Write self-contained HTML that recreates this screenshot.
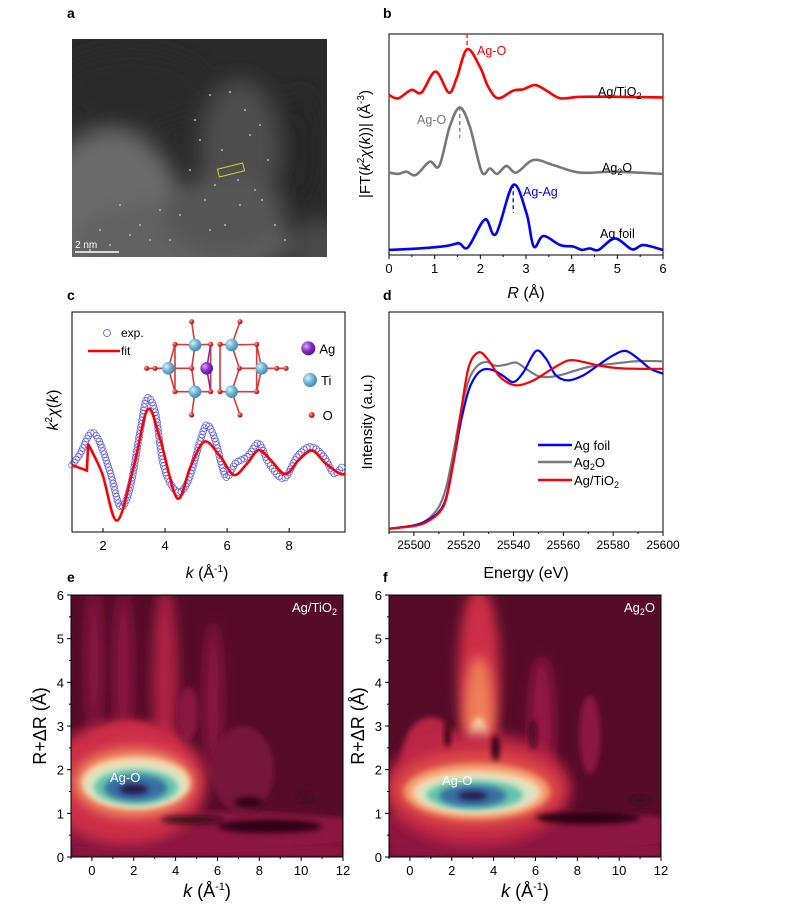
<!DOCTYPE html>
<html><head><meta charset="utf-8"><style>
html,body{margin:0;padding:0;background:#fff;}
svg{display:block;font-family:"Liberation Sans",Arial,sans-serif;}
</style></head><body>
<svg id="fig" width="800" height="920" viewBox="0 0 800 920">
<defs>
<filter id="blur6" x="-50%" y="-50%" width="200%" height="200%"><feGaussianBlur stdDeviation="6"/></filter>
<filter id="blur3" x="-50%" y="-50%" width="200%" height="200%"><feGaussianBlur stdDeviation="3"/></filter>
<filter id="blur10" x="-50%" y="-50%" width="200%" height="200%"><feGaussianBlur stdDeviation="10"/></filter>
<clipPath id="clipA"><rect x="72" y="39" width="255" height="218"/></clipPath>
<clipPath id="clipE"><rect x="71" y="595" width="272" height="262"/></clipPath>
<clipPath id="clipF"><rect x="389" y="595" width="272" height="262"/></clipPath>
<radialGradient id="ballTi" cx="35%" cy="35%" r="70%"><stop offset="0" stop-color="#d8f0fb"/><stop offset="0.5" stop-color="#6fb6d8"/><stop offset="1" stop-color="#3d86ad"/></radialGradient>
<radialGradient id="ballAg" cx="35%" cy="35%" r="70%"><stop offset="0" stop-color="#d9a8f5"/><stop offset="0.5" stop-color="#8a2fd0"/><stop offset="1" stop-color="#4f138a"/></radialGradient>
<radialGradient id="ballO" cx="35%" cy="35%" r="70%"><stop offset="0" stop-color="#ffb0a0"/><stop offset="0.5" stop-color="#e3322a"/><stop offset="1" stop-color="#a11310"/></radialGradient>
</defs>

<g font-weight="bold" font-size="14" fill="#000">
<text x="67" y="18">a</text>
<text x="383" y="18">b</text>
<text x="67" y="300">c</text>
<text x="383" y="300">d</text>
<text x="67" y="582">e</text>
<text x="383" y="582">f</text>
</g>

<g id="panelA" clip-path="url(#clipA)">
<rect x="72" y="39" width="255" height="218" fill="#2b2b2b"/>
<g filter="url(#blur10)">
<ellipse cx="110" cy="210" rx="70" ry="80" fill="#6a6a6a"/>
<ellipse cx="180" cy="240" rx="110" ry="40" fill="#626262"/>
<ellipse cx="240" cy="150" rx="40" ry="70" fill="#4e4e4e"/>
<ellipse cx="225" cy="215" rx="60" ry="40" fill="#555"/>
<ellipse cx="320" cy="250" rx="30" ry="30" fill="#4a4a4a"/>
<ellipse cx="130" cy="90" rx="80" ry="40" fill="#2a2a2a"/>
<ellipse cx="300" cy="150" rx="20" ry="60" fill="#262626"/>
</g>
<g id="dotsA" fill="#bbb"></g>
<rect x="218" y="166" width="26" height="8" fill="none" stroke="#d8d020" stroke-width="1" transform="rotate(-14 231 170)"/>
<text x="75" y="248" fill="#fff" font-size="10">2 nm</text>
<line x1="75" y1="252" x2="119" y2="252" stroke="#fff" stroke-width="1.5"/>
</g>

<g id="panelB"></g>
<g id="panelC"></g>
<g id="panelD"></g>
<g id="panelE"></g>
<g id="panelF"></g>
</svg>
<script>
// ---------- Panel b data ----------
const bR_red=[0,0.2,0.49,0.71,1.02,1.31,1.48,1.71,1.99,2.17,2.39,2.72,2.94,3.2,3.45,3.75,4.18,4.92,6];
const bY_red=[7.24,7.09,7.47,7.35,8.30,7.35,7.99,9.31,8.52,7.62,7.09,7.44,7.50,7.69,7.44,7.09,7.16,7.16,7.13];
const bR_gray=[0,0.2,0.38,0.59,0.89,1.1,1.33,1.55,1.77,2.03,2.21,2.37,2.57,2.79,3.16,3.6,4.18,4.92,6];
const bY_gray=[3.73,3.67,3.77,3.62,4.22,4.03,5.81,6.68,5.81,3.77,3.92,3.67,4.03,3.73,4.30,4.07,3.73,3.77,3.67];
const bR_blue=[0,0.67,1.26,1.53,1.73,2.1,2.34,2.72,3.01,3.17,3.38,3.75,4.04,4.22,4.4,4.59,4.95,5.32,5.57,6];
const bY_blue=[0.23,0.30,0.41,0.53,0.35,1.61,0.95,3.17,1.89,0.38,0.86,0.45,0.38,0.23,0.30,0.23,0.75,0.26,0.45,0.23];
const bTicks=[0,1,2,3,4,5,6];
// ---------- Panel c data ----------
const cK_fit=[1,1.48,1.52,1.97,2.45,2.99,3.44,3.85,4.39,4.82,5.27,5.78,6.22,6.65,7.02,7.4,7.88,8.31,8.74,9.17,9.66,9.82];
const cY_fit=[-2.35,-2.65,-1.2,-2.8,-5.38,-2.44,0.69,-0.98,-4.16,-2.44,-1.07,-1.89,-2.89,-2.25,-1.53,-2.07,-2.84,-2.07,-1.56,-2.25,-2.84,-2.76];
const cK_exp=[1,1.27,1.59,1.86,2.24,2.56,2.88,3.2,3.42,3.69,3.96,4.39,4.76,5.14,5.35,5.62,5.95,6.27,6.65,7.02,7.34,7.83,8.26,8.69,9.12,9.44,9.71];
const cY_exp=[-2.35,-1.71,-0.62,-0.98,-2.8,-4.62,-3.53,-0.44,1.29,0.47,-2.44,-3.8,-3.16,-0.98,-0.16,-0.98,-2.98,-2.25,-1.89,-1.16,-2.25,-3.07,-1.89,-1.35,-1.89,-2.8,-2.44];
const cTicks=[2,4,6,8];
// ---------- Panel d data ----------
const dE_blue=[25490,25500,25505,25510,25513,25516,25519,25522,25525,25528,25532,25536,25540,25544,25549,25553,25557,25562,25568,25574,25580,25585,25590,25595,25600];
const dY_blue=[0.15,0.3,0.5,0.91,1.59,3.26,5.08,6.44,7.12,7.39,7.35,7.08,6.82,7.27,8.23,7.88,7.12,6.89,7.12,7.58,8.03,8.23,7.88,7.42,7.2];
const dE_gray=[25490,25500,25505,25510,25513,25516,25519,25522,25525,25529,25533,25537,25541,25545,25550,25555,25560,25570,25580,25590,25600];
const dY_gray=[0.15,0.3,0.53,1.14,2.05,3.71,5.53,6.89,7.5,7.73,7.55,7.61,7.7,7.42,7.08,7.05,7.17,7.5,7.65,7.77,7.76];
const dE_red=[25490,25500,25505,25510,25513,25516,25519,25522,25526,25530,25534,25538,25542,25548,25555,25562,25568,25575,25582,25590,25600];
const dY_red=[0.15,0.27,0.45,0.86,1.52,3.26,5.53,7.5,8.17,7.8,7.12,6.77,6.67,6.89,7.38,7.8,7.73,7.55,7.45,7.42,7.42];
const dTicks=[25500,25520,25540,25560,25580,25600];
// ---------- Wavelet data (features: k, R, half-widths, colormap level) ----------
const eBlobK=[5,0.1,1.5,3.5,4.6,5.8,7.2,1.8,1.6,2.0,2.1,2.1,2.1,2.1,2.0,7.5,8.5,4.8,10.2];
const eBlobR=[0.6,4.5,4.3,4.0,3.3,3.6,2.0,2.0,1.7,1.7,1.7,1.65,1.6,1.58,1.55,1.25,0.7,0.85,1.35];
const eBlobRx=[9,0.4,0.45,0.6,0.5,0.45,1.5,2.6,3.9,2.9,2.6,2.4,2.0,1.5,0.7,0.7,2.5,1.5,0.4];
const eBlobRy=[0.45,1.8,1.8,2.2,0.6,1.8,1.0,1.1,1.4,0.8,0.6,0.5,0.4,0.3,0.12,0.12,0.15,0.1,0.1];
const eBlobLv=[0.3,0.28,0.3,0.38,0.28,0.28,0.2,0.4,0.45,0.62,0.75,0.82,0.88,0.95,1.0,-0.1,-0.1,-0.05,-0.05];
const fBlobK=[5,3.3,3.3,1.0,6.3,8.6,3.3,3.2,3.2,3.2,3.2,3.2,3.1,3.0,3.0,1.8,4.1,5.9,8.5,11];
const fBlobR=[0.6,4.2,3.2,2.2,3.0,2.8,2.5,1.55,1.55,1.5,1.48,1.45,1.42,1.4,1.4,2.8,2.5,2.8,0.9,1.3];
const fBlobRx=[9,1.0,0.7,1.4,0.6,0.5,0.5,4.5,4.0,3.5,3.1,2.8,2.3,1.6,0.7,0.15,0.2,0.15,2.5,0.5];
const fBlobRy=[0.5,2.0,1.4,1.0,1.6,0.9,0.7,1.3,0.9,0.65,0.5,0.42,0.33,0.25,0.1,0.3,0.3,0.35,0.15,0.1];
const fBlobLv=[0.3,0.45,0.6,0.4,0.32,0.3,0.74,0.42,0.5,0.65,0.75,0.82,0.88,0.95,1.0,-0.1,-0.1,-0.05,-0.1,-0.05];
const wTicksK=[0,2,4,6,8,10,12];
const wTicksR=[0,1,2,3,4,5,6];

const NS='http://www.w3.org/2000/svg';
function mk(tag,attrs,parent){const e=document.createElementNS(NS,tag);for(const k in attrs)e.setAttribute(k,attrs[k]);if(parent)parent.appendChild(e);return e;}
function spline(pts){let d='M'+pts[0][0].toFixed(1)+','+pts[0][1].toFixed(1);for(let i=0;i<pts.length-1;i++){const p0=pts[i-1]||pts[i],p1=pts[i],p2=pts[i+1],p3=pts[i+2]||p2;const c1=[p1[0]+(p2[0]-p0[0])/6,p1[1]+(p2[1]-p0[1])/6],c2=[p2[0]-(p3[0]-p1[0])/6,p2[1]-(p3[1]-p1[1])/6];d+='C'+c1[0].toFixed(1)+','+c1[1].toFixed(1)+' '+c2[0].toFixed(1)+','+c2[1].toFixed(1)+' '+p2[0].toFixed(1)+','+p2[1].toFixed(1);}return d;}
function txt(parent,x,y,s,attrs){const t=mk('text',Object.assign({x:x,y:y},attrs||{}),parent);t.innerHTML=s;return t;}
function frame(g,x0,y0,x1,y1){const r=mk('rect',{x:x0,y:y0,width:x1-x0,height:y1-y0,fill:'none',stroke:'#000','stroke-width':1},g);}

(function(){const g=document.getElementById('dotsA');const dx=[210,230,245,260,200,222,250,268,190,215,238,205,255,180,160,140,120,100,170,240,225,262,195,150,130,110,90,275,285,210];const dy=[95,92,110,125,140,150,135,160,170,185,180,200,190,215,210,225,205,230,240,205,225,200,120,240,235,245,250,225,240,230];for(let i=0;i<dx.length;i++){const c=mk('circle',{cx:dx[i],cy:dy[i],r:1.1,opacity:0.8},g);}})();

// ---------- Panel b ----------
(function(){const g=document.getElementById('panelB');const X0=389,X1=663,Y0=34,Y1=255;
const sx=r=>X0+(r/6)*(X1-X0), sy=v=>Y1-(v/10)*(Y1-Y0);
frame(g,X0,Y0,X1,Y1);
bTicks.forEach(t=>{const l=mk('line',{x1:sx(t),x2:sx(t),y1:Y1,y2:Y1+4,stroke:'#000'},g);
const tl=txt(g,sx(t),Y1+18,t,{'font-size':13,'text-anchor':'middle'});
if(t<6){const m=mk('line',{x1:sx(t+0.5),x2:sx(t+0.5),y1:Y1,y2:Y1+2,stroke:'#000'},g);}});
const series=[[bR_red,bY_red,'#ff0000','red'],[bR_gray,bY_gray,'#777777','gray'],[bR_blue,bY_blue,'#0000ff','blue']];
series.forEach(s=>{const p=mk('path',{d:spline(s[0].map((r,i)=>[sx(r),sy(s[1][i])])),fill:'none',stroke:s[2],'stroke-width':2.6},g);});
const dl=[[1.71,9.3,10,'#ff0000'],[1.55,5.3,6.7,'#777777'],[2.72,1.9,3.2,'#0000ff']];
dl.forEach(d=>{const l=mk('line',{x1:sx(d[0]),x2:sx(d[0]),y1:sy(d[2]),y2:sy(d[1]),stroke:d[3],'stroke-width':1.3,'stroke-dasharray':'4,3'},g);});
const labs=[[477,55,'Ag-O','#ff0000'],[598,96,'Ag/TiO<tspan font-size="9" dy="3">2</tspan>','#000'],[417,124,'Ag-O','#777'],[602,172,'Ag<tspan font-size="9" dy="3">2</tspan><tspan dy="-3">O</tspan>','#000'],[523,196,'Ag-Ag','#0000ff'],[600,238,'Ag foil','#000']];
labs.forEach(l=>{const t=txt(g,l[0],l[1],l[2],{'font-size':12.5,fill:l[3]});});
const xt=txt(g,526,298,'<tspan font-style="italic">R</tspan> (Å)',{'font-size':16,'text-anchor':'middle'});
const yt=txt(g,0,0,'|FT(<tspan font-style="italic">k</tspan><tspan font-size="10" dy="-6">2</tspan><tspan dy="6" font-style="italic">χ</tspan>(<tspan font-style="italic">k</tspan>))|  (Å<tspan font-size="10" dy="-6">-3</tspan><tspan dy="6">)</tspan>',{'font-size':15,'text-anchor':'middle',transform:'translate(370,144) rotate(-90)'});
})();

// ---------- Panel c ----------
(function(){const g=document.getElementById('panelC');const X0=72,X1=345,Y0=312,Y1=532;
const sx=k=>X0+(k-1)/(8.8)*(X1-X0), sy=v=>Y1-(v+6)/12*(Y1-Y0);
frame(g,X0,Y0,X1,Y1);
cTicks.forEach(t=>{const l=mk('line',{x1:sx(t),x2:sx(t),y1:Y1,y2:Y1-4,stroke:'#000'},g);
const tl=txt(g,sx(t),Y1+18,t,{'font-size':13,'text-anchor':'middle'});});
const expPts=cK_exp.map((k,i)=>[sx(k),sy(cY_exp[i])]);
const eg=mk('g',{},g);
const pathE=mk('path',{d:spline(expPts),fill:'none',stroke:'none'},g);const L=pathE.getTotalLength();
for(let s=0;s<=L;s+=3.4){const pt=pathE.getPointAtLength(s);const c=mk('circle',{cx:pt.x,cy:pt.y,r:3.3,fill:'none',stroke:'#5555ee','stroke-width':0.7},eg);}
const fp=cK_fit.map((k,i)=>[sx(k),sy(cY_fit[i])]);
const fd='M'+fp[0][0]+','+fp[0][1]+'L'+fp[1][0]+','+fp[1][1]+'L'+fp[2][0]+','+fp[2][1]+spline(fp.slice(2)).replace(/^M[^C]*/,'');
const f=mk('path',{d:fd,fill:'none',stroke:'#ff0000','stroke-width':2.6},g);
const lc=mk('circle',{cx:107,cy:333,r:3.5,fill:'none',stroke:'#5555ee','stroke-width':0.8},g);
let t=txt(g,121,337,'exp.',{'font-size':12});
const ll=mk('line',{x1:88,x2:120,y1:351,y2:351,stroke:'#ff0000','stroke-width':2.6},g);
t=txt(g,121,355,'fit',{'font-size':12});
const ig=mk('g',{},g);
const P=(zx,zy)=>[40+zx/3,300+zy/3];
const Ti=[[465,135],[575,135],[385,205],[665,205],[465,275],[575,275]],Ag=[500,205];
const O=[[455,65],[600,65],[405,133],[512,133],[540,133],[650,133],[320,205],[345,205],[455,205],[598,205],[710,205],[738,205],[405,275],[512,275],[540,275],[650,275],[455,345],[600,345]];
const bonds=[[465,135,455,65],[575,135,600,65],[465,135,405,133],[465,135,512,133],[575,135,540,133],[575,135,650,133],[385,205,345,205],[385,205,405,133],[385,205,405,275],[385,205,455,205],[665,205,598,205],[665,205,710,205],[665,205,650,133],[665,205,650,275],[465,275,405,275],[465,275,512,275],[575,275,540,275],[575,275,650,275],[465,275,455,345],[575,275,600,345],[465,135,455,205],[465,275,455,205],[575,135,598,205],[575,275,598,205],[405,133,405,275],[650,133,650,275],[512,133,512,275],[540,133,540,275],[320,205,345,205],[710,205,738,205],[500,205,512,133],[500,205,512,275]];
bonds.forEach(b=>{const a=P(b[0],b[1]),c=P(b[2],b[3]);const l=mk('line',{x1:a[0],y1:a[1],x2:c[0],y2:c[1],stroke:(b[0]==500?'#7a2bc0':'#d83a3a'),'stroke-width':1.6},ig);});
O.forEach(o=>{const p=P(o[0],o[1]);const c=mk('circle',{cx:p[0],cy:p[1],r:2.6,fill:'url(#ballO)'},ig);});
Ti.forEach(o=>{const p=P(o[0],o[1]);const c=mk('circle',{cx:p[0],cy:p[1],r:6.3,fill:'url(#ballTi)'},ig);});
let pa=P(Ag[0],Ag[1]);let c=mk('circle',{cx:pa[0],cy:pa[1],r:6.3,fill:'url(#ballAg)'},ig);
const leg=[[805,145,7,'url(#ballAg)','Ag'],[810,240,7,'url(#ballTi)','Ti'],[815,345,3,'url(#ballO)','O']];
leg.forEach(l=>{const p=P(l[0],l[1]);const cc=mk('circle',{cx:p[0],cy:p[1],r:l[2],fill:l[3]},ig);const tt=txt(ig,p[0]+11,p[1]+5,l[4],{'font-size':13});});
const xt=txt(g,207,578,'<tspan font-style="italic">k</tspan> (Å<tspan font-size="10" dy="-6">-1</tspan><tspan dy="6">)</tspan>',{'font-size':16,'text-anchor':'middle'});
const yt=txt(g,0,0,'<tspan font-style="italic">k</tspan><tspan font-size="10" dy="-6">2</tspan><tspan dy="6" font-style="italic">χ</tspan>(<tspan font-style="italic">k</tspan>)',{'font-size':16,'text-anchor':'middle',transform:'translate(58,410) rotate(-90)'});
})();

// ---------- Panel d ----------
(function(){const g=document.getElementById('panelD');const X0=389,X1=663,Y0=312,Y1=532;
const sx=e=>X0+(e-25490)/110*(X1-X0), sy=v=>Y1-v/10*(Y1-Y0);
frame(g,X0,Y0,X1,Y1);
dTicks.forEach(t=>{const l=mk('line',{x1:sx(t),x2:sx(t),y1:Y1,y2:Y1+4,stroke:'#000'},g);
const tl=txt(g,sx(t),Y1+17,t,{'font-size':12,'text-anchor':'middle'});
const m=mk('line',{x1:sx(t-10),x2:sx(t-10),y1:Y1,y2:Y1+2,stroke:'#000'},g);});
[[dE_gray,dY_gray,'#7a7a7a','ag2o'],[dE_blue,dY_blue,'#0000ff','ag-foil'],[dE_red,dY_red,'#ff0000','ag-tio2']].forEach(s=>{const p=mk('path',{d:spline(s[0].map((e,i)=>[sx(e),sy(s[1][i])])),fill:'none',stroke:s[2],'stroke-width':2.2},g);});
const lg=[[445,'#0000ff','Ag foil'],[462,'#7a7a7a','Ag<tspan font-size="9" dy="3">2</tspan><tspan dy="-3">O</tspan>'],[480,'#ff0000','Ag/TiO<tspan font-size="9" dy="3">2</tspan>']];
lg.forEach(l=>{const ln=mk('line',{x1:538,x2:572,y1:l[0],y2:l[0],stroke:l[1],'stroke-width':2.4},g);const t=txt(g,574,l[0]+5,l[2],{'font-size':13});});
const xt=txt(g,526,578,'Energy (eV)',{'font-size':16,'text-anchor':'middle'});
const yt=txt(g,0,0,'Intensity (a.u.)',{'font-size':15,'text-anchor':'middle',transform:'translate(372,422) rotate(-90)'});
})();

// ---------- Wavelet panels ----------
function cmap(v){
 const stops=[[-0.1,[45,5,20]],[0,[75,10,35]],[0.3,[140,22,65]],[0.45,[205,45,70]],[0.55,[235,100,65]],[0.68,[245,170,120]],[0.8,[250,240,205]],[0.88,[100,195,170]],[0.95,[55,110,165]],[1.0,[40,25,70]]];
 for(let i=0;i<stops.length-1;i++){if(v<=stops[i+1][0]){const a=stops[i],b=stops[i+1],t=(v-a[0])/(b[0]-a[0]);const c=a[1].map((x,j)=>Math.round(x+(b[1][j]-x)*Math.max(0,Math.min(1,t))));return 'rgb('+c.join(',')+')';}}
 return 'rgb(40,25,70)';}
function wavelet(id,X0,X1,bk,br,brx,bry,blv,clip,label,ylab){
 const g=document.getElementById(id);const Y0=595,Y1=857;
 const sx=k=>X0+(k+1)/13*(X1-X0), sy=r=>Y1-r/6*(Y1-Y0), px=(X1-X0)/13, py=(Y1-Y0)/6;
 const hg=mk('g',{'clip-path':'url(#'+clip+')'},g);
 const bg=mk('rect',{x:X0,y:Y0,width:X1-X0,height:Y1-Y0,fill:cmap(0.05)},hg);
 const band=mk('rect',{x:X0,y:sy(0.3),width:X1-X0,height:sy(0)-sy(0.3),fill:cmap(0.3),filter:'url(#blur3)'},hg);
 for(let i=0;i<bk.length;i++){const big=(brx[i]*px>60&&bry[i]*py>30)||bry[i]*py>60;const e=mk('ellipse',{cx:sx(bk[i]),cy:sy(br[i]),rx:brx[i]*px,ry:bry[i]*py,fill:cmap(blv[i]),filter:(big?'url(#blur6)':'url(#blur3)')},hg);}
 frame(g,X0,Y0,X1,Y1);
 wTicksK.forEach(t=>{const l=mk('line',{x1:sx(t),x2:sx(t),y1:Y1,y2:Y1+4,stroke:'#000'},g);
  const tl=txt(g,sx(t),Y1+18,t,{'font-size':13,'text-anchor':'middle'});
  const m=mk('line',{x1:sx(t-1),x2:sx(t-1),y1:Y1,y2:Y1+2,stroke:'#000'},g);});
 wTicksR.forEach(t=>{const l=mk('line',{x1:X0-4,x2:X0,y1:sy(t),y2:sy(t),stroke:'#000'},g);
  const tl=txt(g,X0-7,sy(t)+5,t,{'font-size':13,'text-anchor':'end'});
  if(t<6){const m=mk('line',{x1:X0-2,x2:X0,y1:sy(t+0.5),y2:sy(t+0.5),stroke:'#000'},g);}});
 const a=txt(g,ylab[0],ylab[1],'Ag-O',{'font-size':13,fill:'#fff'});
 const s=txt(g,X1-6,Y0+17,label,{'font-size':13,fill:'#fff','text-anchor':'end'});
 const xt=txt(g,(X0+X1)/2,Y1+40,'<tspan font-style="italic">k</tspan>  (Å<tspan font-size="11" dy="-7">-1</tspan><tspan dy="7">)</tspan>',{'font-size':18,'text-anchor':'middle'});
 const yt=txt(g,0,0,'R+ΔR (Å)',{'font-size':18,'text-anchor':'middle',transform:'translate('+(X0-25)+','+((Y0+Y1)/2)+') rotate(-90)'});
}
wavelet('panelE',71,343,eBlobK,eBlobR,eBlobRx,eBlobRy,eBlobLv,'clipE','Ag/TiO<tspan font-size="9" dy="3">2</tspan>',[110,782]);
wavelet('panelF',389,661,fBlobK,fBlobR,fBlobRx,fBlobRy,fBlobLv,'clipF','Ag<tspan font-size="9" dy="3">2</tspan><tspan dy="-3">O</tspan>',[442,785]);
</script>
</body></html>
